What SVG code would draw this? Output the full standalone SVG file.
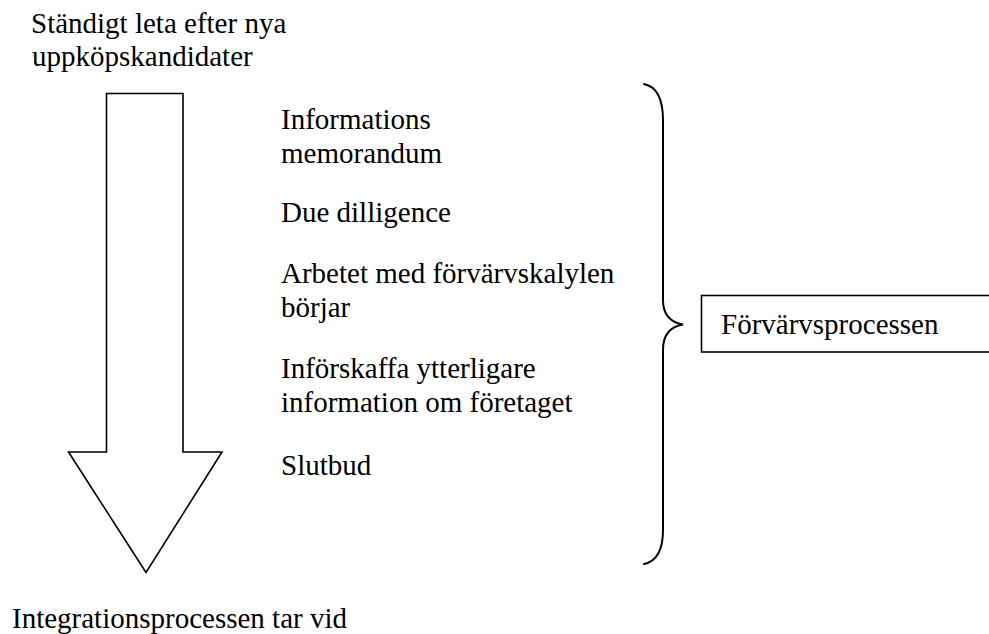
<svg xmlns="http://www.w3.org/2000/svg" width="989" height="634" viewBox="0 0 989 634">
  <style>
    text { font-family: "Liberation Serif", "Times New Roman", serif; font-size: 29px; fill: #000; }
    .shape { fill: #fff; stroke: #000; stroke-width: 1.6; stroke-linejoin: miter; }
    .brace { fill: none; stroke: #000; stroke-width: 2; stroke-linecap: round; }
  </style>
  <rect width="989" height="634" fill="#fff"/>

  <!-- start label -->
  <g id="start-label">
    <text x="31" y="33">Ständigt leta efter nya</text>
    <text x="32" y="66">uppköpskandidater</text>
  </g>

  <!-- big downward block arrow -->
  <g id="flow-arrow">
    <polygon class="shape" points="106.5,93.5 183,93.5 183,452 222,452 146,572.5 68.5,452 106.5,452"/>
  </g>

  <!-- process steps -->
  <g id="steps">
    <text x="281" y="129">Informations</text>
    <text x="281" y="163">memorandum</text>
    <text x="281" y="222">Due dilligence</text>
    <text x="281" y="283">Arbetet med förvärvskalylen</text>
    <text x="281" y="317">börjar</text>
    <text x="281" y="378">Införskaffa ytterligare</text>
    <text x="281" y="412">information om företaget</text>
    <text x="281" y="475">Slutbud</text>
  </g>

  <!-- curly brace grouping the steps -->
  <g id="connectors">
    <path class="brace" d="M644,84 Q663,88 663,120 V300 Q663,321 683,324.5 Q663,328 663,350 V530 Q663,560 644,564"/>
  </g>

  <!-- label box -->
  <g id="process-box">
    <rect class="shape" x="701.5" y="295.5" width="300" height="56.5"/>
    <text x="721" y="334">Förvärvsprocessen</text>
  </g>

  <!-- end label -->
  <g id="end-label">
    <text x="12" y="628">Integrationsprocessen tar vid</text>
  </g>
</svg>
